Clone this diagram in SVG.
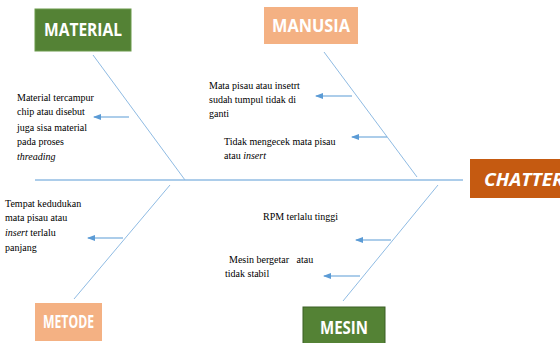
<svg xmlns="http://www.w3.org/2000/svg" width="560" height="343" viewBox="0 0 560 343">
<style>
.lbl{font-family:"Open Sans","Liberation Sans",sans-serif;font-weight:bold;fill:#fff;font-size:17px}
.t{font-family:"Liberation Serif",serif;font-size:10px;fill:#000}
.bone{stroke:#8fbbe3;stroke-width:1;fill:none}
.arr{stroke:#5b9bd5;stroke-width:1.2;fill:none;marker-end:url(#ah)}
</style>
<defs>
<marker id="ah" markerWidth="8" markerHeight="6" refX="7" refY="3" orient="auto" markerUnits="userSpaceOnUse">
<path d="M0,0 L8,3 L0,6 Z" fill="#5b9bd5"/>
</marker>
</defs>
<rect width="560" height="343" fill="#fff"/>
<g id="connectors">
<line x1="35" y1="180" x2="463" y2="180" stroke="#5b9bd5" stroke-width="1"/>
<line class="bone" x1="93" y1="55" x2="185" y2="180"/>
<line class="bone" x1="324" y1="52" x2="417" y2="177"/>
<line class="bone" x1="170" y1="185" x2="74" y2="299"/>
<line class="bone" x1="438" y1="185" x2="343" y2="301"/>
<line class="arr" x1="129" y1="117" x2="94" y2="117"/>
<line class="arr" x1="352" y1="96" x2="316" y2="96"/>
<line class="arr" x1="387" y1="137" x2="352" y2="137"/>
<line class="arr" x1="123" y1="238" x2="88" y2="238"/>
<line class="arr" x1="391" y1="240" x2="356" y2="240"/>
<line class="arr" x1="360" y1="276" x2="324" y2="276"/>
</g>
<g id="material">
<rect x="35" y="9" width="96" height="42" fill="#548235" stroke="#6a9a4a" stroke-width="1"/>
<text class="lbl" x="83" y="36" text-anchor="middle" textLength="78" lengthAdjust="spacingAndGlyphs">MATERIAL</text>
</g>
<g id="manusia">
<rect x="264" y="7" width="94" height="37" fill="#f4b183"/>
<text class="lbl" x="311" y="32" text-anchor="middle" textLength="78" lengthAdjust="spacingAndGlyphs">MANUSIA</text>
</g>
<g id="chatter">
<rect x="470" y="159" width="92" height="39" fill="#c55a11"/>
<text class="lbl" x="484" y="186" font-style="italic" font-size="20" textLength="80" lengthAdjust="spacingAndGlyphs">CHATTER</text>
</g>
<g id="metode">
<rect x="35" y="303" width="67" height="38" fill="#f4b183"/>
<text class="lbl" x="68.5" y="328" text-anchor="middle" font-size="15" textLength="51" lengthAdjust="spacingAndGlyphs">METODE</text>
</g>
<g id="mesin">
<rect x="303" y="307" width="82" height="38" fill="#548235" stroke="#3b5e25" stroke-width="1"/>
<text class="lbl" x="344" y="334" text-anchor="middle" font-size="18" textLength="48" lengthAdjust="spacingAndGlyphs">MESIN</text>
</g>
<g id="cause-material">
<text class="t" x="17" y="101">Material tercampur</text>
<text class="t" x="17" y="115">chip atau disebut</text>
<text class="t" x="17" y="131">juga sisa material</text>
<text class="t" x="17" y="145">pada proses</text>
<text class="t" x="17" y="160" font-style="italic">threading</text>
</g>
<g id="cause-manusia">
<text class="t" x="209" y="89">Mata pisau atau insetrt</text>
<text class="t" x="209" y="103">sudah tumpul tidak di</text>
<text class="t" x="209" y="117">ganti</text>
<text class="t" x="224" y="145">Tidak mengecek mata pisau</text>
<text class="t" x="224" y="159">atau <tspan font-style="italic">insert</tspan></text>
</g>
<g id="cause-metode">
<text class="t" x="5" y="207">Tempat kedudukan</text>
<text class="t" x="5" y="221">mata pisau atau</text>
<text class="t" x="5" y="236"><tspan font-style="italic">insert</tspan> terlalu</text>
<text class="t" x="5" y="251">panjang</text>
</g>
<g id="cause-mesin">
<text class="t" x="263" y="220">RPM terlalu tinggi</text>
<text class="t" x="229" y="263" xml:space="preserve">Mesin bergetar   atau</text>
<text class="t" x="225" y="277">tidak stabil</text>
</g>
</svg>
